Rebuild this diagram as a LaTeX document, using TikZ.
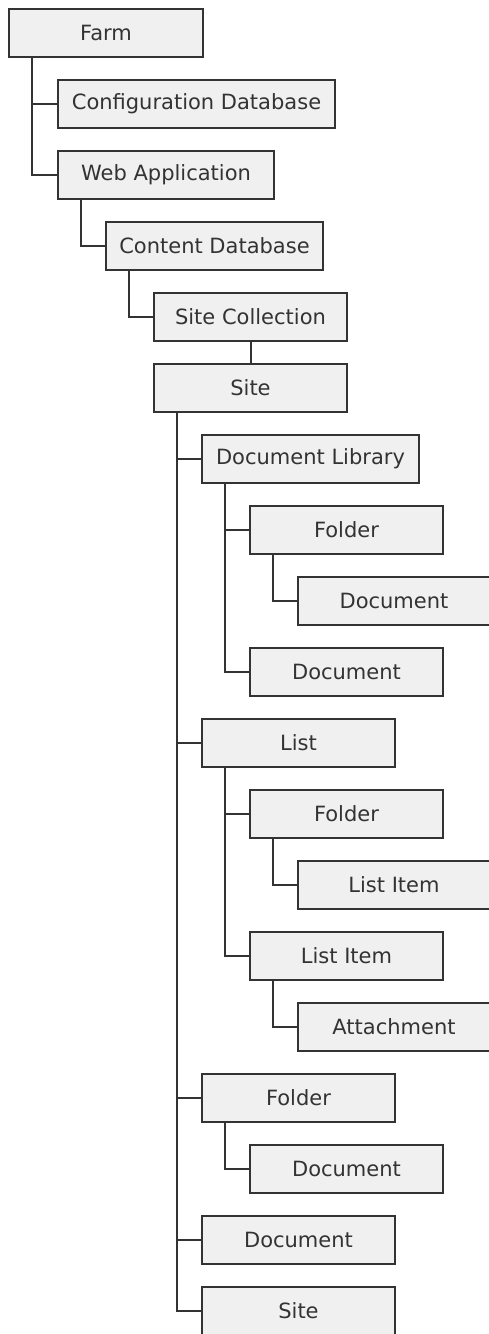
\documentclass[tikz,border=0pt]{standalone}
\usepackage{fontspec}
\setmainfont{DejaVu Sans}
\definecolor{boxfill}{HTML}{F0F0F0}
\definecolor{boxline}{HTML}{333333}
\begin{document}
\begin{tikzpicture}[x=1pt,y=-1pt,item/.style={draw=boxline,fill=boxfill,rectangle,anchor=west,minimum width=193pt,minimum height=48pt,line width=2pt,font=\fontsize{21}{25}\selectfont,text=boxline},tree/.style={draw=boxline,line width=2pt}]
\useasboundingbox (0,0) rectangle (489,1334);
\node[item,minimum width=194pt] (farm) at (8,33) {Farm};
\node[item,minimum width=277pt] (configdb) at (57,104) {Configuration Database};
\node[item,minimum width=216pt] (webapp) at (57,175) {Web Application};
\node[item,minimum width=217pt] (contentdb) at (105,246) {Content Database};
\node[item] (sitecoll) at (153,317) {Site Collection};
\node[item] (site) at (153,388) {Site};
\node[item,minimum width=217pt] (doclib) at (201,459) {Document Library};
\node[item] (dlfolder) at (249,530) {Folder};
\node[item,minimum width=192pt] (dlfolderdoc) at (297,601) {Document};
\node[item] (dldoc) at (249,672) {Document};
\node[item] (list) at (201,743) {List};
\node[item] (lfolder) at (249,814) {Folder};
\node[item,minimum width=192pt] (lfolderitem) at (297,885) {List Item};
\node[item] (litem) at (249,956) {List Item};
\node[item,minimum width=192pt] (attach) at (297,1027) {Attachment};
\node[item] (sfolder) at (201,1098) {Folder};
\node[item] (sfolderdoc) at (249,1169) {Document};
\node[item] (sdoc) at (201,1240) {Document};
\node[item] (subsite) at (201,1311) {Site};
\draw[tree] ([xshift=24pt]farm.south west) |- (configdb.west);
\draw[tree] ([xshift=24pt]farm.south west) |- (webapp.west);
\draw[tree] ([xshift=24pt]webapp.south west) |- (contentdb.west);
\draw[tree] ([xshift=24pt]contentdb.south west) |- (sitecoll.west);
\draw[tree] (sitecoll) -- (site);
\draw[tree] ([xshift=24pt]site.south west) |- (doclib.west);
\draw[tree] ([xshift=24pt]site.south west) |- (list.west);
\draw[tree] ([xshift=24pt]site.south west) |- (sfolder.west);
\draw[tree] ([xshift=24pt]site.south west) |- (sdoc.west);
\draw[tree] ([xshift=24pt]site.south west) |- (subsite.west);
\draw[tree] ([xshift=24pt]doclib.south west) |- (dlfolder.west);
\draw[tree] ([xshift=24pt]doclib.south west) |- (dldoc.west);
\draw[tree] ([xshift=24pt]dlfolder.south west) |- (dlfolderdoc.west);
\draw[tree] ([xshift=24pt]list.south west) |- (lfolder.west);
\draw[tree] ([xshift=24pt]list.south west) |- (litem.west);
\draw[tree] ([xshift=24pt]lfolder.south west) |- (lfolderitem.west);
\draw[tree] ([xshift=24pt]litem.south west) |- (attach.west);
\draw[tree] ([xshift=24pt]sfolder.south west) |- (sfolderdoc.west);
\end{tikzpicture}
\end{document}
